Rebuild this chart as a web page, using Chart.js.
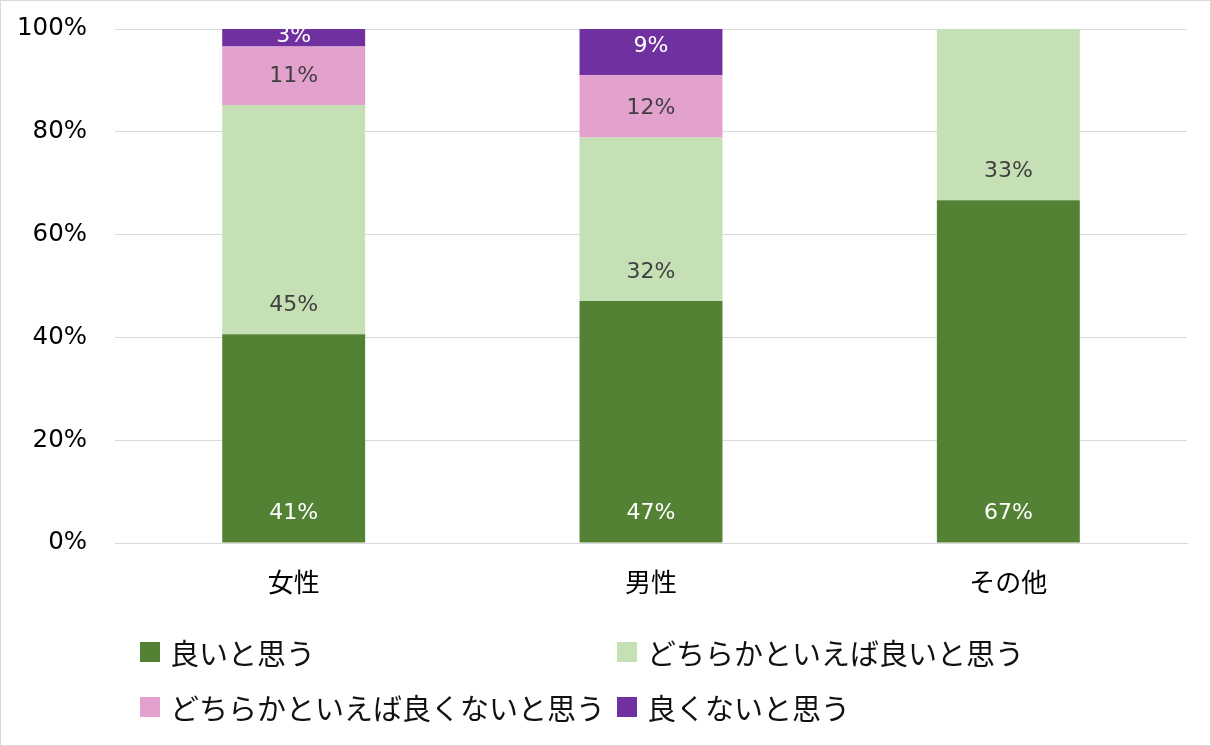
<!DOCTYPE html>
<html>
<head>
<meta charset="utf-8">
<script src="https://cdn.jsdelivr.net/npm/chart.js@4"></script>
<style>
  html, body { margin: 0; padding: 0; background: #fff; }
  #wrap { position: relative; width: 1211px; height: 746px; box-sizing: border-box; border: 1px solid #d9d9d9; overflow: hidden; }
  #c { position: absolute; left: 0; top: 0; }
  #legend { position: absolute; left: 0; top: 0; width: 100%; height: 100%; pointer-events: none;
    font-family: 'Noto Sans CJK JP', sans-serif; font-size: 29px; color: #111; }
  .li { position: absolute; display: flex; align-items: center; white-space: nowrap; }
  .sw { width: 20px; height: 20px; margin-right: 10px; }
</style>
</head>
<body>
<div id="wrap">
  <canvas id="c" width="1209" height="744"></canvas>
  <div id="legend"></div>
</div>
<script>
const categories = ['女性', '男性', 'その他'];
const seriesNames = ['良いと思う', 'どちらかといえば良いと思う', 'どちらかといえば良くないと思う', '良くないと思う'];
const good = [40.6, 47.1, 66.7];
const ratherGood = [44.6, 31.8, 33.3];
const ratherBad = [11.4, 12.1, 0];
const bad = [3.4, 9.0, 0];
const yTicks = [0, 20, 40, 60, 80, 100];

const colors = ['#548235', '#c5e0b4', '#e3a1cd', '#7030a0'];
const labelColors = ['#ffffff', '#404040', '#404040', '#ffffff'];
const seriesValues = [good, ratherGood, ratherBad, bad];

const numFont = "'DejaVu Sans', 'Noto Sans CJK JP', sans-serif";
const jpFont = "'Noto Sans CJK JP', sans-serif";

// labels sit near the base of each segment (Excel "inside base")
const barLabels = {
  id: 'barLabels',
  afterDatasetsDraw(chart) {
    const ctx = chart.ctx;
    ctx.save();
    ctx.font = "22px " + numFont;
    ctx.textAlign = 'center';
    ctx.textBaseline = 'middle';
    chart.data.datasets.forEach((ds, di) => {
      const meta = chart.getDatasetMeta(di);
      meta.data.forEach((el, i) => {
        const v = ds.data[i];
        if (!v) return;
        const p = el.getProps(['x', 'y', 'base'], true);
        const cy = Math.max(p.base - 29, p.y + 7);
        ctx.fillStyle = labelColors[di];
        ctx.fillText(Math.round(v) + '%', p.x, cy);
      });
    });
    ctx.restore();
  }
};

const chart = new Chart(document.getElementById('c'), {
  type: 'bar',
  data: {
    labels: categories,
    datasets: seriesNames.map((n, i) => ({
      label: n,
      data: seriesValues[i],
      backgroundColor: colors[i],
      borderWidth: 0,
      categoryPercentage: 1.0,
      barPercentage: 0.4
    }))
  },
  options: {
    responsive: false,
    animation: false,
    layout: { padding: { left: 0, right: 23, top: 28, bottom: 142 } },
    plugins: { legend: { display: false }, tooltip: { enabled: false } },
    scales: {
      x: {
        stacked: true,
        grid: { display: false },
        border: { display: true, color: '#d9d9d9', width: 1 },
        ticks: { color: '#000', font: { family: jpFont, size: 26 }, padding: 16 },
        afterFit(s) { s.height = 60; s.paddingLeft = 0; s.paddingRight = 0; }
      },
      y: {
        stacked: true,
        min: 0, max: 100,
        afterBuildTicks(s) { s.ticks = yTicks.map(v => ({ value: v })); },
        grid: { color: '#d9d9d9', lineWidth: 1, drawTicks: false },
        border: { display: false },
        ticks: { color: '#000', font: { family: numFont, size: 24.5 }, padding: 28, callback: v => v + '%' },
        afterFit(s) { s.width = 114; s.paddingTop = 0; s.paddingBottom = 0; }
      }
    }
  },
  plugins: [barLabels]
});

// HTML legend built from the datasets
const legendPos = [[139, 651], [616, 651], [139, 706], [616, 706]];
const legendEl = document.getElementById('legend');
chart.data.datasets.forEach((ds, i) => {
  const d = document.createElement('div');
  d.className = 'li';
  d.style.left = legendPos[i][0] + 'px';
  d.style.top = (legendPos[i][1] - 20) + 'px';
  d.style.height = '40px';
  const sw = document.createElement('span');
  sw.className = 'sw';
  sw.style.background = ds.backgroundColor;
  const t = document.createElement('span');
  t.textContent = ds.label;
  d.appendChild(sw); d.appendChild(t);
  legendEl.appendChild(d);
});
</script>
</body>
</html>
